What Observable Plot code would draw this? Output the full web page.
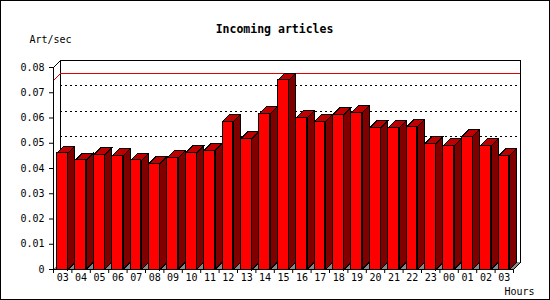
<!DOCTYPE html>
<html><head><meta charset="utf-8">
<script src="https://cdn.jsdelivr.net/npm/d3@7"></script>
<script src="https://cdn.jsdelivr.net/npm/@observablehq/plot@0.6"></script>
<style>
html,body{margin:0;padding:0;background:#fff}
#chart svg{display:block;outline:1px solid #000;outline-offset:-1px}
</style></head><body><div id="chart"></div>
<script>
const hours = ["03","04","05","06","07","08","09","10","11","12","13","14","15","16","17","18","19","20","21","22","23","00","01","02","03"];
const rates = [0.0461,0.0432,0.0454,0.0450,0.0432,0.0419,0.0442,0.0462,0.0471,0.0586,0.0518,0.0617,0.0749,0.0601,0.0585,0.0613,0.0621,0.0561,0.0561,0.0565,0.0498,0.0490,0.0526,0.0490,0.0450];
const yTicks = [0,0.01,0.02,0.03,0.04,0.05,0.06,0.07,0.08];
const gridLevels = [0.01,0.02,0.03,0.04,0.05,0.06,0.07];
const titleText = "Incoming articles";
const yLabel = "Art/sec";
const xLabel = "Hours";

const DX = 7, DY = -7;
const data = hours.map((h, i) => ({i, h, v: rates[i]}));
const peak = d3.max(rates);
const yMax = d3.max(yTicks);
const n = hours.length;

// back plane (drawn behind everything)
function backdrop(index, {x, y}) {
  const g = d3.create("svg:g").attr("shape-rendering", "crispEdges");
  const x0 = x(0), x1 = x(n), yt = y(yMax), yb = y(0);
  g.append("rect").attr("x", x0 + DX + 0.5).attr("y", yt + DY + 0.5)
    .attr("width", x1 - x0).attr("height", yb - yt)
    .attr("fill", "#fff").attr("stroke", "#000");
  g.append("path").attr("fill", "none").attr("stroke", "#000")
    .attr("d", `M${x0 + 0.5},${yt + 0.5}L${x0 + DX + 0.5},${yt + DY + 0.5}`);
  return g.node();
}
// floor and left-wall connector of the peak line
function floor(index, {x, y}) {
  const g = d3.create("svg:g").attr("shape-rendering", "crispEdges");
  const x0 = x(0), x1 = x(n), yb = y(0);
  g.append("path").attr("fill", "#888").attr("stroke", "none")
    .attr("d", `M${x0},${yb}L${x1},${yb}L${x1 + DX},${yb + DY}L${x0 + DX},${yb + DY}Z`);
  g.append("path").attr("fill", "none").attr("stroke", "#000")
    .attr("d", `M${x1 + 0.5},${yb + 0.5}L${x1 + DX + 0.5},${yb + DY + 0.5}`);
  g.append("path").attr("fill", "none").attr("stroke", "#e00000")
    .attr("d", `M${x0 + 0.5},${y(peak) + 0.5}L${x0 + DX + 0.5},${y(peak) + DY + 0.5}`);
  return g.node();
}
// top and side faces of the 3D bars
function sides(index, {x, y}) {
  const g = d3.create("svg:g").attr("stroke", "#000").attr("shape-rendering", "crispEdges");
  for (const d of data) {
    const xl = x(d.i) + 3.4 + 0.5, xr = x(d.i + 1) - 4.1 + 0.5, yt = y(d.v) + 0.5, y0 = y(0) + 0.5;
    g.append("path").attr("fill", "#c00000")
      .attr("d", `M${xl},${yt}L${xl + DX},${yt + DY}L${xr + DX},${yt + DY}L${xr},${yt}Z`);
    g.append("path").attr("fill", "#800000")
      .attr("d", `M${xr},${yt}L${xr + DX},${yt + DY}L${xr + DX},${y0 + DY}L${xr},${y0}Z`);
  }
  return g.node();
}

const chart = Plot.plot({
  width: 550,
  height: 300,
  marginLeft: 53,
  marginRight: 37,
  marginTop: 67,
  marginBottom: 31,
  style: {fontFamily: "'DejaVu Sans Mono', monospace", fontSize: "10px", background: "#fff", color: "#000"},
  x: {domain: [0, n], ticks: d3.range(n + 1), tickFormat: () => "", tickSize: 4, label: null, line: true},
  y: {domain: [0, yMax], ticks: yTicks, tickFormat: d => d === 0 ? "0" : d.toFixed(2), tickSize: 4, tickPadding: 5, label: null, line: true},
  marks: [
    backdrop,
    Plot.ruleY(gridLevels, {x1: 0, x2: n, dx: DX, dy: DY, stroke: "#000", strokeDasharray: "2,3", shapeRendering: "crispEdges"}),
    Plot.ruleY([peak], {x1: 0, x2: n, dx: DX, dy: DY, stroke: "#e00000", shapeRendering: "crispEdges"}),
    floor,
    sides,
    Plot.rectY(data, {x1: "i", x2: d => d.i + 1, y: "v", insetLeft: 3.4, insetRight: 4.1, fill: "#ff0000", stroke: "#000", shapeRendering: "crispEdges"}),
    Plot.text(hours, {x: (d, i) => i + 0.5, text: d => d, frameAnchor: "bottom", dy: 11, fontSize: 10}),
    Plot.text([titleText], {frameAnchor: "top", dx: -9, dy: -43, fontWeight: "bold", fontSize: 11.5}),
    Plot.text([yLabel], {frameAnchor: "top-left", textAnchor: "start", dx: -24, dy: -32, fontSize: 10}),
    Plot.text([xLabel], {frameAnchor: "bottom-right", textAnchor: "start", dx: -9, dy: 25, fontSize: 10})
  ]
});
document.getElementById("chart").appendChild(chart);
</script></body></html>
